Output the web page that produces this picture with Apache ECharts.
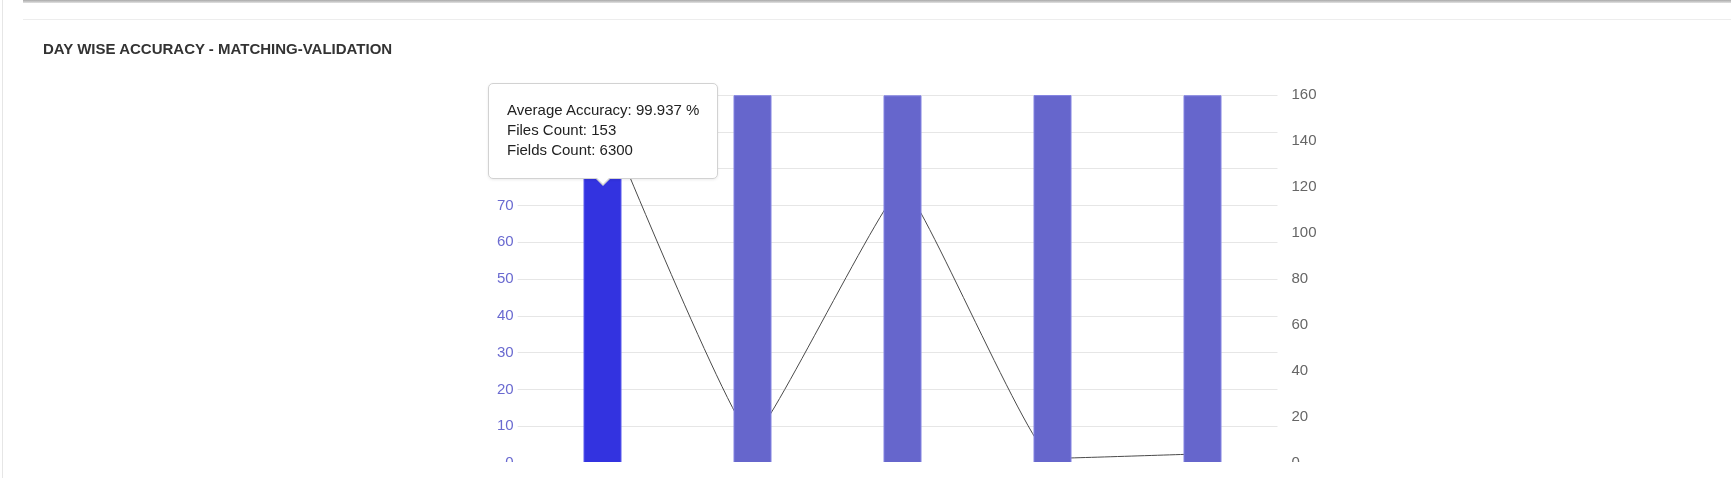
<!DOCTYPE html>
<html>
<head>
<meta charset="utf-8">
<title>Day wise accuracy</title>
<script src="https://cdn.jsdelivr.net/npm/echarts@6/dist/echarts.min.js"></script>
<style>
    html, body { margin: 0; padding: 0; background: #fff; }
    body { position: relative; width: 1731px; height: 478px; overflow: hidden; font-family: Arial, "Liberation Sans", sans-serif; }
    .top-bar { position: absolute; left: 23px; right: 0; top: 0; height: 3px; background: linear-gradient(#a9a9a9, #e2e2e2); }
    .side-line { position: absolute; left: 2px; top: 0; width: 1px; height: 478px; background: #e6e6e6; }
    .head-line { position: absolute; left: 23px; right: 0; top: 19px; height: 1px; background: #ededed; }
    .panel-title { position: absolute; left: 43px; top: 40px; line-height: 18px; font-size: 15px; font-weight: bold; color: #333; }
    .chart-clip { position: absolute; left: 0; top: 0; width: 1731px; height: 462px; overflow: hidden; }
    #accChart { width: 1731px; height: 520px; }
    /* little caret under the tooltip */
    .acc-tip::before, .acc-tip::after { content: ""; position: absolute; left: 50%; width: 0; height: 0; border-style: solid; }
    .acc-tip::before { margin-left: -8px; bottom: -8px; border-width: 8px 8px 0 8px; border-color: #d2d2d2 transparent transparent transparent; }
    .acc-tip::after { margin-left: -7px; bottom: -6px; border-width: 7px 7px 0 7px; border-color: #fff transparent transparent transparent; }
</style>
</head>
<body>
<div class="top-bar"></div>
<div class="side-line"></div>
<div class="head-line"></div>
<div class="chart-clip"><div id="accChart"></div></div>
<div class="panel-title">DAY WISE ACCURACY - MATCHING-VALIDATION</div>

<script>
    // days on the x axis (labels are cut off in the panel)
    var days = ['01-06-2023', '02-06-2023', '05-06-2023', '06-06-2023', '07-06-2023'];
    // bars - left axis, percent
    var avgAccuracy = [99.937, 99.95, 99.91, 99.98, 99.93];
    // line - right axis
    var filesCount = [153, 11, 120, 2, 4];
    var fieldsCount = [6300, 460, 4870, 85, 170];
    // axis ticks
    var accTicks = { min: 0, max: 100, step: 10 };
    var fileTicks = { min: 0, max: 160, step: 20 };

    var accChart = echarts.init(document.getElementById('accChart'));

    var option = {
        animation: false,
        textStyle: { fontFamily: 'Arial, "Liberation Sans", sans-serif' },
        // grid 0 holds the bars and the line, grid 1 only draws the wider horizontal lines + left labels
        grid: [
            { left: 527.5, right: 453.5, top: 95, bottom: 57, containLabel: false },
            { left: 517.7, right: 453.5, top: 95, bottom: 57, containLabel: false }
        ],
        tooltip: {
            trigger: 'item',
            triggerOn: 'none',
            alwaysShowContent: true,
            transitionDuration: 0,
            className: 'acc-tip',
            backgroundColor: '#fff',
            borderColor: '#d2d2d2',
            borderWidth: 1,
            borderRadius: 5,
            padding: [16, 18, 18, 18],
            extraCssText: 'box-shadow: 0 1px 3px rgba(0,0,0,0.08);',
            textStyle: { color: '#222', fontSize: 15, fontFamily: 'Arial, "Liberation Sans", sans-serif' },
            position: function () {
                return [488, 83];
            },
            formatter: function (p) {
                var i = p.dataIndex;
                return '<div style="line-height:20px">Average Accuracy: ' + avgAccuracy[i] + ' %<br/>' +
                    'Files Count: ' + filesCount[i] + '<br/>' +
                    'Fields Count: ' + fieldsCount[i] + '</div>';
            }
        },
        xAxis: [{
            type: 'category',
            gridIndex: 0,
            data: days,
            boundaryGap: true,
            axisLine: { lineStyle: { color: '#ccc' } },
            axisTick: { show: false },
            axisLabel: { color: '#666', fontSize: 15, margin: 14 },
            splitLine: { show: false }
        }, {
            type: 'category',
            gridIndex: 1,
            data: days,
            show: false
        }],
        yAxis: [{
            type: 'value',
            gridIndex: 0,
            position: 'left',
            min: accTicks.min,
            max: accTicks.max,
            interval: accTicks.step,
            axisLine: { show: false },
            axisTick: { show: false },
            axisLabel: { show: false },
            splitLine: { show: false }
        }, {
            type: 'value',
            gridIndex: 0,
            position: 'right',
            min: fileTicks.min,
            max: fileTicks.max,
            interval: fileTicks.step,
            axisLine: { show: false },
            axisTick: { show: false },
            axisLabel: { color: '#666', fontSize: 15, margin: 14 },
            splitLine: { show: false }
        }, {
            type: 'value',
            gridIndex: 1,
            position: 'left',
            min: accTicks.min,
            max: accTicks.max,
            interval: accTicks.step,
            axisLine: { show: false },
            axisTick: { show: false },
            axisLabel: { color: '#6a6ad0', fontSize: 15, margin: 4 },
            splitLine: { lineStyle: { color: '#e6e6e6', width: 1 } }
        }],
        series: [{
            name: 'Files Count',
            type: 'line',
            xAxisIndex: 0,
            yAxisIndex: 1,
            data: filesCount,
            smooth: 0.1,
            showSymbol: false,
            symbol: 'none',
            z: 1,
            silent: true,
            lineStyle: { color: '#4a4a4a', width: 1 }
        }, {
            name: 'Average Accuracy',
            type: 'bar',
            xAxisIndex: 0,
            yAxisIndex: 0,
            data: avgAccuracy,
            barWidth: 38,
            z: 2,
            itemStyle: { color: '#6666cc', borderColor: '#8282e2', borderWidth: 1 },
            emphasis: { focus: 'none', itemStyle: { color: '#3333e0', borderColor: '#5a5aee' } }
        }]
    };

    accChart.setOption(option);

    // bar of the first day is hovered, its tooltip is open
    accChart.dispatchAction({ type: 'highlight', seriesIndex: 1, dataIndex: 0 });
    accChart.dispatchAction({ type: 'showTip', seriesIndex: 1, dataIndex: 0 });
</script>
</body>
</html>
